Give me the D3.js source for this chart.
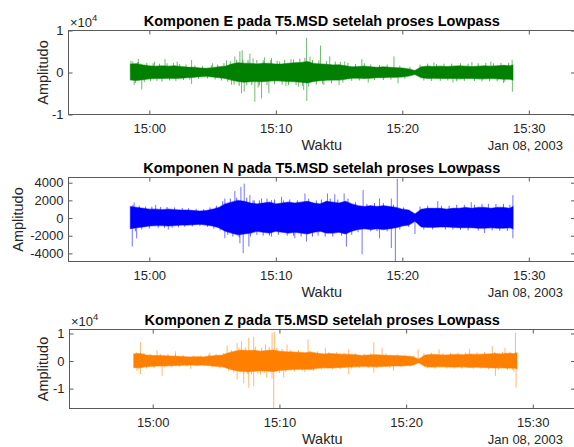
<!DOCTYPE html>
<html>
<head>
<meta charset="utf-8">
<script src="https://cdn.jsdelivr.net/npm/d3@7"></script>
<style>
body { margin: 0; background: #fff; }
svg { display: block; font-family: "Liberation Sans", Arial, Helvetica, sans-serif; }
</style>
</head>
<body>
<div id="chart"></div>
<script>
// titles and labels
var titles = ["Komponen E pada T5.MSD setelah proses Lowpass",
              "Komponen N pada T5.MSD setelah proses Lowpass",
              "Komponen Z pada T5.MSD setelah proses Lowpass"];
var xLabel = "Waktu", yLabel = "Amplitudo", dateLabel = "Jan 08, 2003";

// x ticks (minutes after 15:00, Jan 08 2003)
var xTickMinutes = [0, 10, 20, 30];

// sample times of the envelopes, minutes after 15:00
var envMinutes = [-1.5,-1,-0.5,0,0.5,1,1.5,2,2.5,3,3.5,4,4.5,5,5.5,6,6.5,7,7.5,8,8.5,9,9.5,10,
  10.5,11,11.5,12,12.5,13,13.5,14,14.5,15,15.5,16,16.5,17,17.5,18,18.5,19,19.5,20,20.5,21,
  21.5,22,22.5,23,23.5,24,24.5,25,25.5,26,26.5,27,27.5,28,28.5,28.75];

// E component: upper / lower envelope of the dense trace
var hiE = [2000,2100,1800,1600,1500,1600,1500,1600,1400,1300,1250,1100,1000,1150,1350,1500,2000,2300,2200,2150,
  2050,2200,2150,2000,2050,2200,2300,2400,2600,2150,2050,1950,1800,1850,1600,1350,1400,1500,1350,1250,
  1350,1250,1150,1050,850,450,1350,1500,1400,1500,1400,1500,1600,1500,1400,1500,1600,1500,1600,1700,1600,1800];
var loE = [-1800,-1900,-1700,-1500,-1400,-1400,-1350,-1400,-1350,-1250,-1150,-1000,-900,-1050,-1250,-1400,-1800,-2150,-2300,-2200,
  -2150,-2200,-2050,-1950,-2050,-2150,-2200,-2300,-2500,-2150,-1950,-1850,-1800,-1800,-1600,-1350,-1350,-1400,-1350,-1250,
  -1250,-1150,-1150,-1050,-850,-450,-1250,-1400,-1350,-1400,-1400,-1400,-1500,-1400,-1400,-1500,-1500,-1400,-1500,-1600,-1600,-1800];
// isolated peaks [minute, amplitude]
var spikesE = [[-1.45,2800],[-0.87,3200],[-0.6,-4000],[-1.2,-3000],[0.4,2600],[1.24,3200],[2.2,2600],[3.34,3000],
  [3.34,-2700],[5.0,2200],[6.1,2900],[6.5,-2900],[6.76,3840],[7.16,5040],[7.34,5280],[7.5,-4560],[7.29,-4960],
  [7.95,4480],[8.2,3400],[8.34,-6960],[8.6,-3600],[8.87,-6160],[9.1,3600],[9.45,-4960],[9.66,3440],[10.3,2640],
  [10.8,-3200],[11.2,3200],[11.8,-3400],[12.2,-4160],[12.42,8240],[12.45,-6800],[12.7,3800],[13.53,6400],
  [13.8,-3000],[14.26,3840],[15.0,-3000],[15.45,2640],[16.8,3200],[17.3,-2400],[19.34,3840],[19.66,-2560],
  [22.5,2400],[24.0,-2400],[25.5,2500],[27.0,2600],[28.0,-2500],[28.68,3040],[28.7,-4560]];
// small peaks along the edge of the band [minute, amplitude]
var fringeE = [[-1.3,2600],[-1.1,-2500],[-0.9,2500],[-0.4,-2300],[-0.2,2300],[0.1,-2100],[0.3,2200],[0.6,-2000],
  [0.8,2100],[1.0,-2200],[1.4,2200],[1.6,-1900],[1.9,2300],[2.1,-2000],[2.4,2000],[2.7,-1800],[2.9,1900],[3.2,-1700],
  [3.6,1700],[3.9,-1500],[4.2,1500],[4.6,-1400],[4.9,1700],[5.2,-1700],[5.4,1900],[5.7,-1900],[5.9,2200],[6.2,-2200],
  [6.4,2700],[6.7,-2900],[6.9,3000],[7.1,-3200],[7.4,3100],[7.7,-3100],[7.8,3000],[8.1,-3000],[8.5,3000],[8.7,-3100],
  [9.0,2900],[9.3,-3000],[9.6,3000],[9.9,-2800],[10.1,2800],[10.5,-2900],[10.7,3000],[11.0,-3000],[11.4,3100],
  [11.6,-3000],[11.9,3300],[12.1,-3200],[12.3,3500],[12.6,-3400],[12.9,3000],[13.2,-2900],[13.4,2900],[13.7,-2700],
  [14.0,2700],[14.4,-2600],[14.7,2600],[15.1,2500],[15.3,-2400],[15.7,2300],[16.0,-2000],[16.3,2000],[16.6,-1900],
  [17.0,2200],[17.5,1900],[17.8,-1800],[18.2,1800],[18.5,-1800],[18.8,1900],[19.1,-1700],[19.8,1600],[20.2,-1500],
  [20.6,1300],[21.4,1900],[21.7,-1900],[22.0,2100],[22.3,-2000],[22.7,2000],[23.0,-2000],[23.3,2100],[23.6,-1900],
  [23.9,2100],[24.3,-2100],[24.6,2200],[24.9,-2000],[25.2,2100],[25.7,-2000],[26.0,2200],[26.3,-2100],[26.6,2300],
  [26.9,-2100],[27.2,2200],[27.5,-2100],[27.8,2300],[28.1,-2200],[28.4,2300]];

// N component
var hiN = [1300,1200,1100,1000,1000,950,1000,950,900,900,850,800,850,1000,1200,1600,1800,2000,1900,1700,
  1600,1700,1800,1600,1700,1800,1700,1800,1900,1700,1600,1900,1800,1700,1900,1600,1400,1300,1400,1300,
  1400,1300,1200,1000,900,450,1000,1100,1100,1100,1000,1100,1100,1200,1100,1200,1200,1100,1200,1200,1100,1300];
var loN = [-1200,-1100,-1000,-900,-850,-850,-900,-850,-800,-800,-750,-700,-800,-900,-1100,-1500,-1700,-1900,-1800,-1700,
  -1500,-1600,-1700,-1500,-1600,-1700,-1600,-1700,-1800,-1600,-1500,-1700,-1700,-1600,-1800,-1500,-1300,-1200,-1300,-1200,
  -1300,-1200,-1100,-900,-800,-350,-1000,-1050,-1050,-1000,-1000,-1050,-1100,-1100,-1100,-1150,-1150,-1100,-1150,-1150,-1100,-1200];
var spikesN = [[-1.35,-3230],[-1.2,1770],[-1.0,-2300],[0.5,1500],[1.5,-1300],[5.97,2220],[5.97,-2290],[6.76,3050],
  [7.24,3530],[7.5,3900],[7.42,-3980],[7.16,-2860],[7.95,2600],[7.87,-3230],[8.3,2000],[8.87,2220],[9.66,2030],
  [9.66,-2100],[10.45,2400],[11.5,-2290],[12.3,2780],[12.42,-2670],[13.34,-2000],[14.08,2780],[14.66,2700],
  [15.4,2780],[15.58,-3230],[16.9,3160],[16.82,-4100],[18.2,2220],[18.2,-2290],[19.13,2200],[19.13,-3400],
  [19.6,4470],[19.45,-4900],[21.0,-1800],[22.8,1920],[25.45,1800],[26.5,-1700],[28.74,2600],[28.74,-2290]];
var fringeN = [[-1.3,1500],[-1.1,-1500],[-0.8,1400],[-0.6,-1300],[-0.3,1300],[0.0,-1200],[0.2,1300],[0.7,-1100],
  [0.9,1250],[1.2,-1100],[1.4,1250],[1.8,-1100],[2.0,1200],[2.3,-1050],[2.6,1150],[2.8,-1000],[3.1,1100],[3.4,-950],
  [3.7,1050],[4.0,-900],[4.3,1000],[4.6,-1000],[4.8,1200],[5.1,-1200],[5.3,1400],[5.6,-1400],[5.8,1900],[6.2,-1900],
  [6.4,2200],[6.6,-2100],[6.9,2300],[7.1,-2200],[7.7,2300],[8.0,-2100],[8.2,2000],[8.5,-1900],[8.7,2000],[9.0,-2000],
  [9.3,2200],[9.5,-2000],[9.9,2100],[10.2,-1900],[10.6,2000],[10.9,-2000],[11.1,2100],[11.4,-2000],[11.7,2000],
  [12.0,-2100],[12.6,2200],[12.9,-2100],[13.2,2000],[13.6,2100],[13.9,-2100],[14.3,2200],[14.5,-2100],[14.9,2100],
  [15.2,-2000],[15.7,2200],[16.0,-1900],[16.3,1800],[16.5,-1600],[17.2,1600],[17.5,-1500],[17.8,1700],[18.0,-1500],
  [18.5,1700],[18.8,-1500],[19.3,1500],[19.8,-1300],[20.1,1200],[20.5,-1000],[21.4,1300],[21.7,-1300],[22.0,1400],
  [22.4,-1300],[23.1,1400],[23.4,-1300],[23.7,1400],[24.0,-1300],[24.3,1500],[24.6,-1350],[24.9,1500],[25.2,-1400],
  [25.7,1500],[26.0,-1400],[26.3,1600],[26.8,1600],[27.1,-1400],[27.4,1600],[27.7,-1450],[28.0,1600],[28.3,-1450],[28.5,1500]];

// Z component
var hiZ = [2600,2700,2200,2000,2000,1900,1800,1700,1600,1500,1600,1500,1800,2000,2200,3000,3600,4000,3800,3900,
  3600,3800,4000,3600,3400,3300,3200,3000,3200,2800,2600,2700,2600,2500,2400,2300,2000,2200,2300,2200,
  2100,2000,1900,1800,1600,700,2200,2400,2300,2200,2300,2400,2300,2500,2400,2500,2600,2700,2600,2800,2700,3000];
var loZ = [-2400,-2400,-2000,-1900,-1800,-1800,-1700,-1600,-1500,-1400,-1500,-1400,-1700,-1900,-2100,-2800,-3400,-3800,-3900,-3700,
  -3500,-3600,-3800,-3400,-3200,-3100,-3000,-2900,-3000,-2600,-2400,-2500,-2400,-2300,-2200,-2100,-1900,-2000,-2100,-2000,
  -1900,-1800,-1800,-1700,-1500,-600,-2000,-2200,-2100,-2100,-2200,-2200,-2100,-2300,-2200,-2300,-2400,-2500,-2400,-2600,-2500,-2800];
var spikesZ = [[-0.97,6870],[-0.97,-4820],[-1.24,-3600],[0.34,3980],[0.74,-5420],[1.79,3500],[3.0,-2800],[4.5,3000],
  [5.87,5660],[6.66,6630],[6.66,-6630],[7.0,7230],[7.18,-8070],[7.58,8430],[7.58,-9640],[7.97,8800],[7.97,-9040],
  [8.5,-5000],[8.9,6000],[9.0,-6000],[9.42,10240],[9.6,10480],[9.55,-17200],[9.42,-6400],[10.34,-6025],[10.6,6025],
  [12.26,7830],[12.0,-4000],[13.63,4820],[15.47,4220],[15.47,-4820],[17.45,6870],[17.45,-4200],[18.1,4820],
  [19.0,-3500],[20.95,4220],[22.6,4220],[25.0,4400],[26.8,5420],[27.05,-5420],[27.8,4800],[28.5,-4000],
  [28.63,10240],[28.68,-9640]];
var fringeZ = [[-1.3,3200],[-1.1,-3000],[-0.7,3000],[-0.5,-2700],[-0.2,2600],[0.1,-2500],[0.6,2600],[0.9,-2400],
  [1.2,2500],[1.5,-2300],[1.8,2400],[2.1,-2100],[2.4,2200],[2.7,-2000],[3.2,2000],[3.5,-1900],[3.8,2000],[4.1,-1900],
  [4.4,2300],[4.7,-2300],[5.0,2600],[5.3,-2600],[5.6,2900],[6.0,-3500],[6.2,4000],[6.4,-4200],[6.8,4800],[7.3,5000],
  [7.5,-4800],[7.8,-4800],[8.1,5200],[8.3,-4600],[8.6,4800],[8.8,-4500],[9.2,5000],[9.8,4800],[10.0,-4300],[10.2,4400],
  [10.5,-4000],[10.9,4000],[11.2,-3800],[11.5,4000],[11.8,-3500],[12.4,3800],[12.7,-3500],[13.0,3500],[13.3,-3100],
  [13.9,3200],[14.2,-3000],[14.5,3200],[14.8,-2900],[15.1,3000],[15.7,-2700],[16.0,2800],[16.3,-2500],[16.7,2600],
  [17.0,-2500],[17.2,2800],[17.7,-2600],[18.4,2700],[18.7,-2400],[19.3,2500],[19.6,-2200],[19.9,2300],[20.3,-2000],
  [20.6,2000],[21.4,2800],[21.7,-2600],[22.0,3000],[22.3,-2700],[22.9,2900],[23.2,-2700],[23.5,2900],[23.8,-2700],
  [24.1,3000],[24.4,-2700],[24.7,3100],[25.3,-2800],[25.6,3100],[25.9,-2800],[26.2,3300],[26.5,-3000],[27.0,3300],
  [27.3,-3100],[27.6,3300],[28.0,-3200],[28.2,3400],[28.4,-3200]];

// axis limits and ticks
var yLimE = [-10000, 10000], yTicksE = [-10000, 0, 10000];
var yLimN = [-4920, 4590],   yTicksN = [-4000, -2000, 0, 2000, 4000];
var yLimZ = [-17200, 11440], yTicksZ = [-10000, 0, 10000];
var xLimEN = [-6.39, 33.65], xLimZ = [-6.57, 33.33];

var W = 574, H = 447;
var base = new Date(2003, 0, 8, 15, 0, 0);
function atMin(m) { return new Date(base.getTime() + m * 60000); }

var panels = [
  {title: titles[0], hi: hiE, lo: loE, spikes: spikesE, fringe: fringeE, color: "#008000", yLim: yLimE, yTicks: yTicksE,
   xLim: xLimEN, left: 68.5, right: 575, top: 30.5, bottom: 114.5, exp: true, ylx: 43},
  {title: titles[1], hi: hiN, lo: loN, spikes: spikesN, fringe: fringeN, color: "#0000ff", yLim: yLimN, yTicks: yTicksN,
   xLim: xLimEN, left: 68.5, right: 575, top: 177.5, bottom: 261.5, exp: false, ylx: 18},
  {title: titles[2], hi: hiZ, lo: loZ, spikes: spikesZ, fringe: fringeZ, color: "#ff8000", yLim: yLimZ, yTicks: yTicksZ,
   xLim: xLimZ, left: 69.5, right: 575, top: 329.5, bottom: 408.5, exp: true, ylx: 43}
];

var axisColor = "#5a5a5a", textColor = "#262626";

var svg = d3.select("#chart").append("svg")
    .attr("width", W)
    .attr("height", H);

panels.forEach(function (p, i) {
    var x = d3.scaleTime()
        .domain([atMin(p.xLim[0]), atMin(p.xLim[1])])
        .range([p.left, p.right]);
    var y = d3.scaleLinear()
        .domain(p.yLim)
        .range([p.bottom, p.top]);

    var g = svg.append("g").attr("class", "panel");

    g.append("clipPath").attr("id", "clip" + i)
        .append("rect")
        .attr("x", p.left).attr("y", p.top)
        .attr("width", p.right - p.left).attr("height", p.bottom - p.top);

    var plot = g.append("g").attr("clip-path", "url(#clip" + i + ")");

    var env = envMinutes.map(function (m, k) { return {t: atMin(m), hi: p.hi[k], lo: p.lo[k]}; });

    var area = d3.area()
        .x(function (d) { return x(d.t); })
        .y0(function (d) { return y(d.lo); })
        .y1(function (d) { return y(d.hi); });

    function peaks(sel, data, cls, op) {
        sel.selectAll("." + cls)
            .data(data)
            .enter().append("line")
            .attr("class", cls)
            .attr("x1", function (d) { return x(atMin(d[0])); })
            .attr("x2", function (d) { return x(atMin(d[0])); })
            .attr("y1", y(0))
            .attr("y2", function (d) { return y(d[1]); })
            .attr("stroke", p.color)
            .attr("stroke-opacity", op)
            .attr("stroke-width", 1);
    }

    peaks(plot, p.fringe, "fringe", 0.6);

    plot.append("path")
        .datum(env)
        .attr("d", area)
        .attr("fill", p.color)
        .attr("stroke", p.color)
        .attr("stroke-opacity", 0.5)
        .attr("stroke-width", 1.2);

    peaks(plot, p.spikes, "spike", 0.55);

    // axes (ticks pointing inward, MATLAB style)
    var xTicks = xTickMinutes.map(atMin);
    var fmt = d3.timeFormat("%H:%M");

    var xb = g.append("g")
        .attr("transform", "translate(0," + p.bottom + ")")
        .call(d3.axisBottom(x).tickValues(xTicks).tickFormat(fmt).tickSizeInner(-4).tickSizeOuter(0).tickPadding(9.4));
    var xt = g.append("g")
        .attr("transform", "translate(0," + p.top + ")")
        .call(d3.axisTop(x).tickValues(xTicks).tickFormat("").tickSizeInner(-4).tickSizeOuter(0));

    var yFmt = p.exp ? function (d) { return d / 10000; } : function (d) { return d; };
    var yl = g.append("g")
        .attr("transform", "translate(" + p.left + ",0)")
        .call(d3.axisLeft(y).tickValues(p.yTicks).tickFormat(yFmt).tickSizeInner(-4).tickSizeOuter(0).tickPadding(5));
    var yr = g.append("g")
        .attr("transform", "translate(" + p.right + ",0)")
        .call(d3.axisRight(y).tickValues(p.yTicks).tickFormat("").tickSizeInner(-4).tickSizeOuter(0));

    [xb, xt, yl, yr].forEach(function (a) {
        a.select(".domain").remove();
        a.selectAll(".tick line").attr("stroke", axisColor);
        a.selectAll(".tick text").attr("fill", textColor).style("font-size", "13px")
            .style("font-family", "'Liberation Sans', Arial, Helvetica, sans-serif");
    });

    g.append("rect")
        .attr("x", p.left).attr("y", p.top)
        .attr("width", p.right - p.left).attr("height", p.bottom - p.top)
        .attr("fill", "none")
        .attr("stroke", axisColor)
        .attr("stroke-width", 1);

    var cx = (p.left + p.right) / 2;

    g.append("text")
        .attr("x", cx).attr("y", p.top - 4.5)
        .attr("text-anchor", "middle")
        .style("font-size", "14.5px").style("font-weight", "bold")
        .attr("fill", "#000")
        .text(p.title);

    g.append("text")
        .attr("x", cx).attr("y", p.bottom + 35)
        .attr("text-anchor", "middle")
        .style("font-size", "14.5px")
        .attr("fill", textColor)
        .text(xLabel);

    g.append("text")
        .attr("x", 563).attr("y", p.bottom + 35)
        .attr("text-anchor", "end")
        .style("font-size", "13px")
        .attr("fill", textColor)
        .text(dateLabel);

    g.append("text")
        .attr("transform", "translate(" + p.ylx + "," + ((p.top + p.bottom) / 2) + ") rotate(-90)")
        .attr("text-anchor", "middle")
        .attr("dy", "0.35em")
        .style("font-size", "14.5px")
        .attr("fill", textColor)
        .text(yLabel);

    if (p.exp) {
        var ex = g.append("text")
            .attr("x", p.left + 1.5).attr("y", p.top - 3.5)
            .style("font-size", "13px")
            .attr("fill", textColor);
        ex.append("tspan").text("\u00d710");
        ex.append("tspan").attr("dy", -6).style("font-size", "9.5px").text("4");
    }
});
</script>
</body>
</html>
